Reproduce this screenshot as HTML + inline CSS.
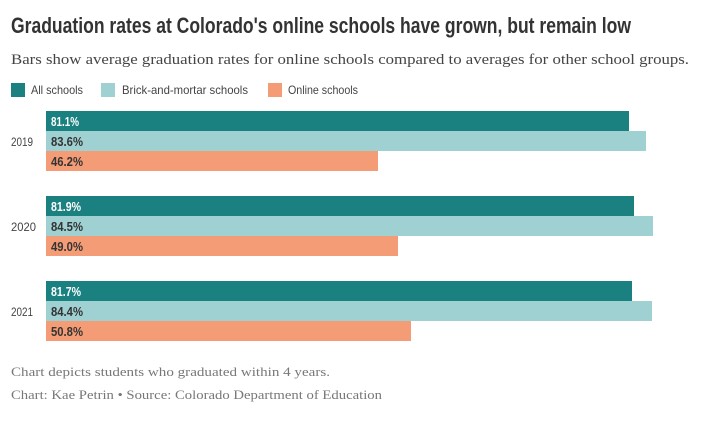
<!DOCTYPE html>
<html><head><meta charset="utf-8"><style>
html,body{margin:0;padding:0;background:#fff;}
svg{display:block;}
</style></head><body>
<svg width="723" height="422" xmlns="http://www.w3.org/2000/svg">
<rect width="723" height="422" fill="#fff"/>
<text x="11" y="33" font-family="Liberation Sans, sans-serif" font-weight="bold" font-size="22" fill="#333" textLength="620" lengthAdjust="spacingAndGlyphs">Graduation rates at Colorado's online schools have grown, but remain low</text>
<text x="11" y="64" font-family="Liberation Serif, serif" font-size="14.5" fill="#444" textLength="678" lengthAdjust="spacingAndGlyphs">Bars show average graduation rates for online schools compared to averages for other school groups.</text>
<g font-family="Liberation Sans, sans-serif" font-size="12" fill="#444">
<rect x="11" y="83" width="14" height="14" fill="#1a8080"/>
<text x="31" y="94" textLength="52" lengthAdjust="spacingAndGlyphs">All schools</text>
<rect x="101" y="83" width="14" height="14" fill="#9fd1d3"/>
<text x="122" y="94" textLength="126" lengthAdjust="spacingAndGlyphs">Brick-and-mortar schools</text>
<rect x="268" y="83" width="14" height="14" fill="#f49c76"/>
<text x="288" y="94" textLength="70" lengthAdjust="spacingAndGlyphs">Online schools</text>
</g>
<g font-family="Liberation Sans, sans-serif" font-size="12" fill="#444">
<text x="11" y="146" textLength="22" lengthAdjust="spacingAndGlyphs">2019</text>
<text x="11" y="231" textLength="25" lengthAdjust="spacingAndGlyphs">2020</text>
<text x="11" y="316" textLength="22" lengthAdjust="spacingAndGlyphs">2021</text>
</g>
<g>
<rect x="46" y="111" width="583" height="20" fill="#1a8080"/>
<rect x="46" y="131" width="600" height="20" fill="#9fd1d3"/>
<rect x="46" y="151" width="332" height="20" fill="#f49c76"/>
<rect x="46" y="196" width="588" height="20" fill="#1a8080"/>
<rect x="46" y="216" width="607" height="20" fill="#9fd1d3"/>
<rect x="46" y="236" width="352" height="20" fill="#f49c76"/>
<rect x="46" y="281" width="586" height="20" fill="#1a8080"/>
<rect x="46" y="301" width="606" height="20" fill="#9fd1d3"/>
<rect x="46" y="321" width="365" height="20" fill="#f49c76"/>
</g>
<g font-family="Liberation Sans, sans-serif" font-size="12.5" font-weight="bold">
<text x="51" y="126" fill="#fff" textLength="28" lengthAdjust="spacingAndGlyphs">81.1%</text>
<text x="51" y="146" fill="#333" textLength="32" lengthAdjust="spacingAndGlyphs">83.6%</text>
<text x="51" y="166" fill="#333" textLength="32" lengthAdjust="spacingAndGlyphs">46.2%</text>
<text x="51" y="211" fill="#fff" textLength="30" lengthAdjust="spacingAndGlyphs">81.9%</text>
<text x="51" y="231" fill="#333" textLength="32" lengthAdjust="spacingAndGlyphs">84.5%</text>
<text x="51" y="251" fill="#333" textLength="32" lengthAdjust="spacingAndGlyphs">49.0%</text>
<text x="51" y="296" fill="#fff" textLength="30" lengthAdjust="spacingAndGlyphs">81.7%</text>
<text x="51" y="316" fill="#333" textLength="32" lengthAdjust="spacingAndGlyphs">84.4%</text>
<text x="51" y="336" fill="#333" textLength="32" lengthAdjust="spacingAndGlyphs">50.8%</text>
</g>
<g font-family="Liberation Serif, serif" font-size="13" fill="#777">
<text x="11" y="376" textLength="319" lengthAdjust="spacingAndGlyphs">Chart depicts students who graduated within 4 years.</text>
<text x="11" y="399" textLength="371" lengthAdjust="spacingAndGlyphs">Chart: Kae Petrin • Source: Colorado Department of Education</text>
</g>
</svg>
</body></html>
